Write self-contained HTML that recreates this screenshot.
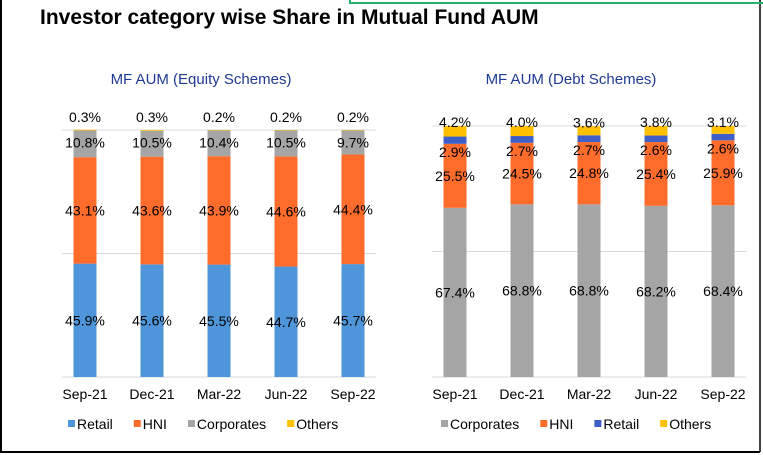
<!DOCTYPE html>
<html><head><meta charset="utf-8"><style>
body{margin:0;background:#fff;}
svg{display:block;font-family:"Liberation Sans",sans-serif;}
</style></head><body>
<svg width="763" height="455">
<rect x="0" y="0" width="763" height="455" fill="#fff"/>
<line x1="1" y1="0" x2="1" y2="452" stroke="#000" stroke-width="2"/>
<line x1="0" y1="452" x2="760" y2="452" stroke="#000" stroke-width="2"/>
<line x1="760" y1="0" x2="760" y2="452" stroke="#000" stroke-width="1.5"/>
<path d="M350 0 V3 H763" fill="none" stroke="#1fb36a" stroke-width="2"/>
<text x="40" y="24" font-size="21" font-weight="bold" fill="#000">Investor category wise Share in Mutual Fund AUM</text>
<text x="201" y="84" font-size="15" fill="#1f3a93" text-anchor="middle">MF AUM (Equity Schemes)</text>
<text x="571" y="84" font-size="15" fill="#1f3a93" text-anchor="middle">MF AUM (Debt Schemes)</text>
<g id="eq"></g><g id="dt"></g>
</svg>
<script>
const categories=["Sep-21","Dec-21","Mar-22","Jun-22","Sep-22"];
const eqRetail=[45.9,45.6,45.5,44.7,45.7];
const eqHNI=[43.1,43.6,43.9,44.6,44.4];
const eqCorp=[10.8,10.5,10.4,10.5,9.7];
const eqOthers=[0.3,0.3,0.2,0.2,0.2];
const dtCorp=[67.4,68.8,68.8,68.2,68.4];
const dtHNI=[25.5,24.5,24.8,25.4,25.9];
const dtRetail=[2.9,2.7,2.7,2.6,2.6];
const dtOthers=[4.2,4.0,3.6,3.8,3.1];
const NS="http://www.w3.org/2000/svg";
function mk(p,t,a){const e=document.createElementNS(NS,t);for(const k in a)e.setAttribute(k,a[k]);p.appendChild(e);return e;}
function chart(g,x0,step,yTop,yBot,series,colors,names,legendX,kind){
  const y=v=>yBot-(yBot-yTop)*v/100;
  [0,50,100].forEach(v=>{const l=mk(g,'line',{x1:x0-23,x2:x0+4*step+23,y1:y(v),y2:y(v),stroke:'#d9d9d9'});
    
    });
  categories.forEach((c,i)=>{
    const cx=x0+i*step;let acc=0;
    series.forEach((s,j)=>{
      const v=s[i];const r=mk(g,'rect',{x:cx-11.5,y:y(acc+v),width:23,height:y(acc)-y(acc+v),fill:colors[j]});
      
      
      let ly;
      if(kind==='eq'){ly=j===3?y(acc+v)-8:(j===2?y(acc+v)+17:(y(acc)+y(acc+v))/2+5);}
      else{ly=j===3?y(acc+v)+1:(j===2?y(acc)+13:(y(acc)+y(acc+v))/2+5);}
      const t=mk(g,'text',{x:cx,y:ly,'font-size':14,'text-anchor':'middle',fill:'#000'});
      t.textContent=v.toFixed(1)+'%';
      
      
      acc+=v;});
    const t=mk(g,'text',{x:cx,y:yBot+22,'font-size':14,'text-anchor':'middle',fill:'#000'});
    t.textContent=c;
    
    
  });
  let lx=legendX;
  [0,1,2,3].forEach(j=>{
    const r=mk(g,'rect',{x:lx,y:420,width:7,height:7,fill:colors[j]});
    
    
    const t=mk(g,'text',{x:lx+9,y:429,'font-size':14,fill:'#000'});
    t.textContent=names[j];
    
    
    lx+=t.getComputedTextLength()+30;
  });
}
chart(document.getElementById('eq'),85,67,130,377,[eqRetail,eqHNI,eqCorp,eqOthers],['#4e95d9','#fe6c2b','#a5a5a5','#ffc000'],['Retail','HNI','Corporates','Others'],68,'eq');
chart(document.getElementById('dt'),455,67,126,377,[dtCorp,dtHNI,dtRetail,dtOthers],['#a5a5a5','#fe6c2b','#3e5fc8','#ffc000'],['Corporates','HNI','Retail','Others'],441,'dt');
</script>
</body></html>
